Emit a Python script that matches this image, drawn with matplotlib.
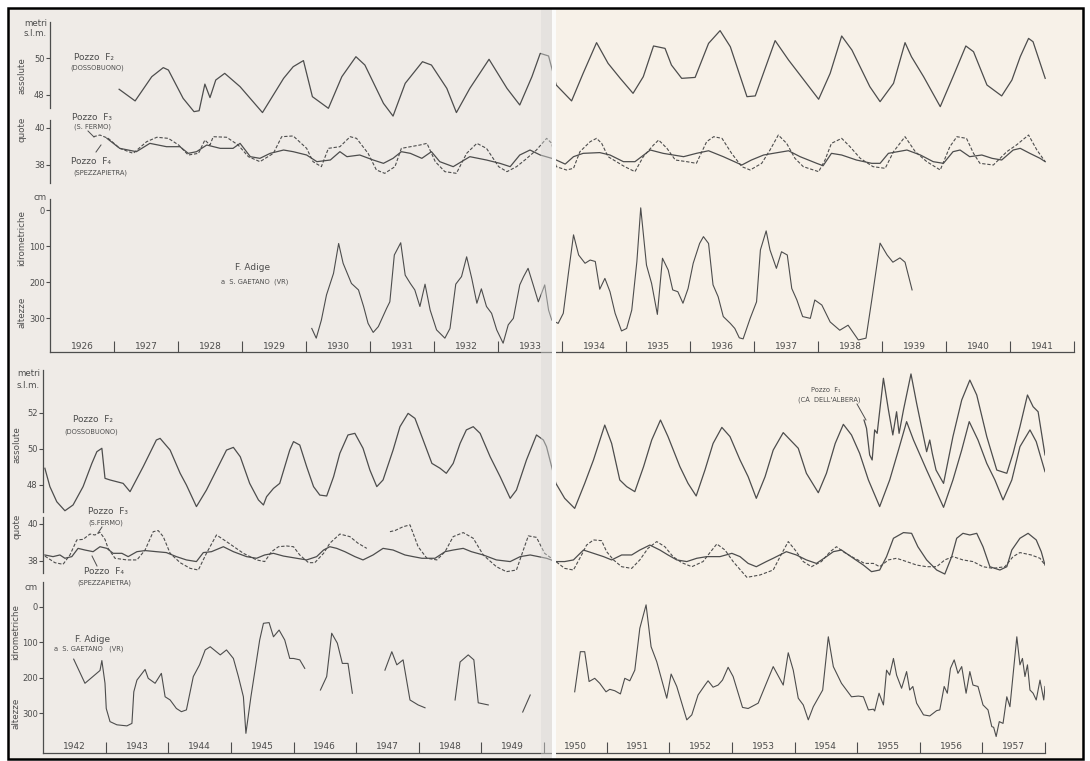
import numpy as np
import matplotlib
matplotlib.use("Agg")
import matplotlib.pyplot as plt
from matplotlib.patches import Rectangle
from matplotlib.lines import Line2D

W, H = 1090, 761
INK = '#4d4d4d'
LEFT_PAGE = '#efebe7'
RIGHT_PAGE = '#f7f1e8'

plt.rcParams['font.family'] = ['DejaVu Sans']

# ---------------- data ----------------
# upper panel 1926-1941 : levels in metri s.l.m., river in cm
top_f2 = [
    (1927.08, 48.31), (1927.33, 47.68), (1927.59, 48.99), (1927.77, 49.48), (1927.85, 49.35),
    (1928.08, 47.82), (1928.25, 47.10), (1928.33, 47.15), (1928.42, 48.59), (1928.50, 47.86),
    (1928.59, 48.81), (1928.73, 49.17), (1928.97, 48.45), (1929.32, 47.05), (1929.65, 48.90),
    (1929.80, 49.53), (1929.96, 49.86), (1930.10, 47.91), (1930.35, 47.28), (1930.56, 48.99),
    (1930.78, 50.07), (1930.92, 49.62), (1931.21, 47.55), (1931.36, 46.86), (1931.55, 48.63),
    (1931.82, 49.80), (1931.96, 49.62), (1932.20, 48.36), (1932.35, 47.05), (1932.56, 48.36),
    (1932.86, 49.93), (1933.14, 48.36), (1933.34, 47.46), (1933.53, 48.99), (1933.66, 50.25),
    (1933.79, 50.11), (1933.91, 48.54), (1934.15, 47.68), (1934.33, 49.17), (1934.54, 50.83),
    (1934.72, 49.71), (1934.91, 48.90), (1935.11, 48.09), (1935.27, 48.99), (1935.43, 50.65),
    (1935.61, 50.52), (1935.71, 49.62), (1935.87, 48.90), (1936.08, 48.95), (1936.29, 50.79),
    (1936.47, 51.48), (1936.63, 50.61), (1936.89, 47.91), (1937.02, 47.95), (1937.33, 50.94),
    (1937.54, 49.89), (1937.72, 49.08), (1938.01, 47.77), (1938.19, 49.17), (1938.37, 51.19),
    (1938.53, 50.43), (1938.81, 48.45), (1938.97, 47.64), (1939.18, 48.63), (1939.36, 50.83),
    (1939.46, 50.07), (1939.65, 48.99), (1939.91, 47.37), (1940.11, 48.99), (1940.31, 50.65),
    (1940.43, 50.34), (1940.64, 48.54), (1940.87, 47.95), (1941.03, 48.81), (1941.16, 50.07),
    (1941.29, 51.06), (1941.36, 50.88), (1941.55, 48.90)]

top_f3 = [
    (1926.68, 39.53), (1926.78, 39.62), (1926.91, 39.44), (1927.09, 38.90), (1927.30, 38.63),
    (1927.51, 39.26), (1927.67, 39.50), (1927.85, 39.44), (1928.01, 39.08), (1928.16, 38.54),
    (1928.32, 38.63), (1928.42, 39.35), (1928.50, 39.08), (1928.55, 39.53), (1928.76, 39.50),
    (1928.94, 39.08), (1929.10, 38.45), (1929.28, 38.18), (1929.49, 38.63), (1929.62, 39.53),
    (1929.80, 39.57), (1930.01, 38.90), (1930.11, 38.18), (1930.24, 37.91), (1930.35, 38.90),
    (1930.53, 38.99), (1930.69, 39.53), (1930.79, 39.44), (1930.97, 38.63), (1931.10, 37.73),
    (1931.23, 37.55), (1931.39, 37.91), (1931.49, 38.90), (1931.78, 39.08), (1931.89, 39.17),
    (1932.02, 38.18), (1932.17, 37.64), (1932.35, 37.55), (1932.51, 38.63), (1932.67, 39.17),
    (1932.82, 38.90), (1933.01, 37.91), (1933.14, 37.64), (1933.29, 37.91), (1933.42, 38.27),
    (1933.60, 38.81), (1933.76, 39.44), (1933.84, 39.17), (1933.91, 37.91), (1934.07, 37.73),
    (1934.18, 37.82), (1934.28, 38.72), (1934.44, 39.26), (1934.54, 39.44), (1934.62, 39.17),
    (1934.72, 38.45), (1934.85, 38.18), (1934.98, 37.91), (1935.14, 37.64), (1935.27, 38.45),
    (1935.43, 39.08), (1935.51, 39.35), (1935.64, 38.90), (1935.77, 38.27), (1935.95, 38.18),
    (1936.10, 38.09), (1936.26, 39.26), (1936.37, 39.53), (1936.50, 39.44), (1936.65, 38.63),
    (1936.81, 37.91), (1936.94, 37.73), (1937.12, 38.09), (1937.25, 38.81), (1937.38, 39.62),
    (1937.51, 39.17), (1937.64, 38.36), (1937.77, 37.91), (1938.01, 37.64), (1938.11, 38.27),
    (1938.21, 39.17), (1938.37, 39.44), (1938.50, 38.99), (1938.66, 38.36), (1938.86, 37.91),
    (1939.05, 37.82), (1939.18, 38.72), (1939.36, 39.53), (1939.52, 38.72), (1939.70, 38.18),
    (1939.91, 37.73), (1940.06, 38.99), (1940.17, 39.53), (1940.32, 39.44), (1940.43, 38.63),
    (1940.53, 38.09), (1940.74, 38.00), (1940.95, 38.72), (1941.10, 39.08), (1941.29, 39.62),
    (1941.42, 38.81), (1941.55, 38.18)]

top_f4 = [
    (1926.89, 39.44), (1927.09, 38.90), (1927.35, 38.72), (1927.56, 39.17), (1927.82, 38.99),
    (1928.03, 38.99), (1928.16, 38.63), (1928.29, 38.72), (1928.45, 39.08), (1928.66, 38.90),
    (1928.86, 38.90), (1928.97, 39.17), (1929.13, 38.45), (1929.28, 38.36), (1929.44, 38.63),
    (1929.65, 38.81), (1929.80, 38.72), (1930.01, 38.54), (1930.17, 38.18), (1930.38, 38.27),
    (1930.53, 38.72), (1930.64, 38.45), (1930.84, 38.54), (1931.05, 38.27), (1931.21, 38.09),
    (1931.36, 38.36), (1931.49, 38.72), (1931.63, 38.63), (1931.81, 38.36), (1931.96, 38.72),
    (1932.09, 38.18), (1932.30, 37.91), (1932.56, 38.45), (1932.82, 38.27), (1933.03, 38.09),
    (1933.19, 37.91), (1933.34, 38.54), (1933.50, 38.81), (1933.66, 38.54), (1933.84, 38.36),
    (1933.91, 38.27), (1934.05, 38.05), (1934.18, 38.45), (1934.33, 38.63), (1934.59, 38.67),
    (1934.75, 38.54), (1934.96, 38.18), (1935.14, 38.18), (1935.38, 38.81), (1935.58, 38.63),
    (1935.74, 38.54), (1935.90, 38.45), (1936.10, 38.63), (1936.29, 38.77), (1936.52, 38.45),
    (1936.81, 38.00), (1936.96, 38.27), (1937.15, 38.54), (1937.30, 38.63), (1937.54, 38.77),
    (1937.72, 38.45), (1937.98, 38.09), (1938.08, 37.96), (1938.21, 38.63), (1938.37, 38.54),
    (1938.60, 38.27), (1938.84, 38.09), (1938.97, 38.09), (1939.10, 38.63), (1939.39, 38.81),
    (1939.60, 38.54), (1939.80, 38.18), (1939.96, 38.09), (1940.11, 38.72), (1940.22, 38.81),
    (1940.37, 38.45), (1940.56, 38.54), (1940.72, 38.36), (1940.87, 38.27), (1941.05, 38.81),
    (1941.16, 38.90), (1941.31, 38.63), (1941.47, 38.36), (1941.55, 38.18)]

top_adige = [
    (1930.09, 329), (1930.16, 356), (1930.24, 306), (1930.32, 236), (1930.43, 176),
    (1930.51, 93), (1930.58, 148), (1930.71, 204), (1930.82, 222), (1930.90, 268),
    (1930.97, 315), (1931.05, 340), (1931.13, 324), (1931.26, 273), (1931.31, 255),
    (1931.38, 125), (1931.48, 91), (1931.55, 181), (1931.63, 204), (1931.70, 222),
    (1931.78, 268), (1931.86, 206), (1931.94, 278), (1932.04, 333), (1932.17, 356),
    (1932.25, 329), (1932.34, 206), (1932.43, 185), (1932.51, 130), (1932.59, 190),
    (1932.67, 259), (1932.74, 219), (1932.82, 268), (1932.90, 287), (1932.98, 333),
    (1933.08, 370), (1933.16, 319), (1933.24, 301), (1933.34, 208), (1933.40, 185),
    (1933.47, 162), (1933.55, 208), (1933.63, 255), (1933.73, 208), (1933.79, 278),
    (1933.84, 306), (1933.94, 315), (1934.02, 287), (1934.10, 176), (1934.18, 69),
    (1934.26, 125), (1934.36, 148), (1934.44, 139), (1934.52, 143), (1934.59, 220),
    (1934.67, 190), (1934.75, 227), (1934.83, 287), (1934.93, 336), (1935.01, 329),
    (1935.09, 278), (1935.17, 143), (1935.23, -6), (1935.32, 153), (1935.40, 204),
    (1935.49, 290), (1935.57, 134), (1935.66, 167), (1935.73, 222), (1935.81, 227),
    (1935.89, 259), (1935.97, 218), (1936.05, 148), (1936.15, 93), (1936.21, 74),
    (1936.29, 93), (1936.36, 208), (1936.44, 241), (1936.52, 296), (1936.63, 315),
    (1936.70, 329), (1936.77, 355), (1936.83, 358), (1936.94, 301), (1937.04, 255),
    (1937.10, 111), (1937.19, 58), (1937.25, 111), (1937.35, 162), (1937.43, 116),
    (1937.52, 125), (1937.59, 218), (1937.67, 250), (1937.76, 296), (1937.88, 301),
    (1937.95, 250), (1938.06, 264), (1938.19, 311), (1938.34, 334), (1938.47, 320),
    (1938.63, 361), (1938.75, 356), (1938.84, 250), (1938.97, 92), (1939.08, 125),
    (1939.17, 145), (1939.28, 133), (1939.36, 145), (1939.47, 222)]

# lower panel 1942-1957
bot_f2 = [
    (1942.03, 48.93), (1942.11, 47.91), (1942.22, 47.07), (1942.35, 46.57), (1942.48, 46.89),
    (1942.64, 47.91), (1942.78, 49.20), (1942.86, 49.85), (1942.94, 50.04), (1942.99, 48.37),
    (1943.07, 48.28), (1943.28, 48.09), (1943.39, 47.63), (1943.60, 49.02), (1943.81, 50.50),
    (1943.87, 50.59), (1944.03, 49.94), (1944.19, 48.65), (1944.29, 48.00), (1944.45, 46.80),
    (1944.61, 47.72), (1944.93, 49.94), (1945.04, 50.09), (1945.15, 49.57), (1945.30, 48.09),
    (1945.44, 47.17), (1945.52, 46.89), (1945.57, 47.35), (1945.68, 47.81), (1945.78, 48.09),
    (1945.94, 49.94), (1946.00, 50.41), (1946.10, 50.22), (1946.21, 49.02), (1946.32, 47.91),
    (1946.42, 47.44), (1946.53, 47.39), (1946.64, 48.46), (1946.74, 49.76), (1946.87, 50.78),
    (1946.98, 50.87), (1947.11, 50.04), (1947.22, 48.83), (1947.33, 47.91), (1947.43, 48.28),
    (1947.59, 49.94), (1947.70, 51.24), (1947.83, 51.98), (1947.94, 51.70), (1948.07, 50.50),
    (1948.21, 49.20), (1948.34, 48.93), (1948.44, 48.65), (1948.55, 49.20), (1948.66, 50.31),
    (1948.76, 51.06), (1948.87, 51.24), (1948.98, 50.87), (1949.14, 49.57), (1949.30, 48.46),
    (1949.46, 47.26), (1949.56, 47.72), (1949.72, 49.39), (1949.88, 50.78), (1949.99, 50.50),
    (1950.04, 50.13), (1950.19, 48.09), (1950.33, 47.26), (1950.49, 46.70), (1950.65, 48.09),
    (1950.79, 49.39), (1950.97, 51.33), (1951.08, 50.31), (1951.21, 48.28), (1951.32, 47.91),
    (1951.45, 47.63), (1951.59, 49.02), (1951.72, 50.50), (1951.86, 51.61), (1951.98, 50.69),
    (1952.17, 49.02), (1952.30, 48.09), (1952.43, 47.39), (1952.57, 48.83), (1952.70, 50.31),
    (1952.84, 51.20), (1952.97, 50.69), (1953.13, 49.39), (1953.26, 48.46), (1953.39, 47.26),
    (1953.53, 48.46), (1953.66, 49.94), (1953.82, 50.91), (1954.06, 50.04), (1954.19, 48.65),
    (1954.38, 47.57), (1954.51, 48.65), (1954.65, 50.31), (1954.78, 51.37), (1954.91, 50.78),
    (1955.04, 49.76), (1955.18, 48.28), (1955.36, 46.80), (1955.52, 48.28), (1955.66, 49.94),
    (1955.79, 51.52), (1955.90, 50.50), (1956.11, 48.83), (1956.38, 46.76), (1956.53, 48.28),
    (1956.67, 49.94), (1956.79, 51.52), (1956.93, 50.50), (1957.07, 49.20), (1957.20, 48.28),
    (1957.33, 47.17), (1957.47, 48.28), (1957.60, 50.13), (1957.76, 51.06), (1957.86, 50.41),
    (1958.00, 48.74)]

bot_f1 = [
    (1955.11, 51.61), (1955.15, 51.15), (1955.20, 49.67), (1955.24, 49.39), (1955.28, 51.06),
    (1955.32, 50.87), (1955.42, 53.93), (1955.50, 52.17), (1955.57, 50.78), (1955.63, 52.07),
    (1955.67, 50.87), (1955.74, 52.17), (1955.86, 54.17), (1955.95, 52.54), (1956.06, 50.69),
    (1956.11, 49.85), (1956.16, 50.50), (1956.20, 49.76), (1956.26, 48.83), (1956.38, 48.09),
    (1956.53, 50.69), (1956.67, 52.72), (1956.80, 53.83), (1956.91, 53.00), (1957.07, 50.69),
    (1957.23, 48.83), (1957.39, 48.65), (1957.49, 49.76), (1957.60, 51.24), (1957.72, 53.00),
    (1957.81, 52.35), (1957.89, 52.07), (1958.00, 49.67)]

bot_f3 = [
    (1942.03, 38.25), (1942.19, 37.89), (1942.32, 37.80), (1942.43, 38.31), (1942.54, 39.13),
    (1942.64, 39.16), (1942.75, 39.45), (1942.83, 39.40), (1942.91, 39.55), (1942.99, 39.16),
    (1943.04, 38.67), (1943.15, 38.13), (1943.34, 38.04), (1943.50, 38.04), (1943.63, 38.58),
    (1943.76, 39.58), (1943.84, 39.64), (1943.92, 39.31), (1944.03, 38.40), (1944.19, 37.89),
    (1944.35, 37.58), (1944.48, 37.49), (1944.61, 38.40), (1944.77, 39.40), (1944.93, 39.04),
    (1945.20, 38.40), (1945.41, 38.04), (1945.54, 37.95), (1945.65, 38.49), (1945.76, 38.76),
    (1945.89, 38.80), (1946.00, 38.76), (1946.10, 38.31), (1946.24, 37.89), (1946.34, 37.89),
    (1946.48, 38.40), (1946.58, 38.95), (1946.74, 39.45), (1946.90, 39.31), (1947.03, 38.95),
    (1947.17, 38.67), (np.nan, np.nan),
    (1947.54, 39.58), (1947.62, 39.64), (1947.75, 39.85), (1947.86, 39.95), (1947.99, 38.76),
    (1948.13, 38.13), (1948.29, 38.04), (1948.42, 38.49), (1948.55, 39.31), (1948.71, 39.53),
    (1948.87, 39.22), (1949.03, 38.31), (1949.24, 37.67), (1949.40, 37.40), (1949.56, 37.49),
    (1949.67, 38.58), (1949.75, 39.35), (1949.88, 39.27), (1950.01, 38.40), (1950.19, 37.95),
    (1950.33, 37.58), (1950.47, 37.49), (1950.60, 38.31), (1950.68, 38.85), (1950.79, 39.13),
    (1950.92, 39.09), (1951.00, 38.49), (1951.11, 38.04), (1951.24, 37.67), (1951.40, 37.58),
    (1951.53, 38.04), (1951.66, 38.67), (1951.80, 39.04), (1951.93, 38.76), (1952.06, 38.22),
    (1952.20, 37.89), (1952.36, 37.67), (1952.54, 37.95), (1952.65, 38.44), (1952.76, 38.91),
    (1952.89, 38.58), (1953.02, 37.95), (1953.16, 37.40), (1953.24, 37.09), (1953.45, 37.22),
    (1953.66, 37.49), (1953.77, 38.22), (1953.90, 39.04), (1954.01, 38.58), (1954.14, 37.95),
    (1954.27, 37.67), (1954.43, 37.95), (1954.57, 38.49), (1954.67, 38.76), (1954.80, 38.44),
    (1954.96, 38.13), (1955.12, 37.85), (1955.26, 37.85), (1955.36, 37.67), (1955.50, 38.04),
    (1955.63, 38.13), (1955.79, 37.95), (1955.95, 37.76), (1956.11, 37.67), (1956.27, 37.67),
    (1956.40, 38.04), (1956.53, 38.22), (1956.69, 38.04), (1956.85, 37.95), (1957.01, 37.67),
    (1957.17, 37.58), (1957.36, 37.67), (1957.49, 38.22), (1957.60, 38.44), (1957.78, 38.31),
    (1957.92, 38.13), (1958.00, 37.76)]

bot_f4 = [
    (1942.03, 38.31), (1942.16, 38.22), (1942.27, 38.31), (1942.35, 38.13), (1942.46, 38.22),
    (1942.56, 38.67), (1942.67, 38.58), (1942.80, 38.49), (1942.91, 38.76), (1943.02, 38.67),
    (1943.12, 38.40), (1943.26, 38.40), (1943.36, 38.22), (1943.50, 38.49), (1943.63, 38.55),
    (1943.81, 38.49), (1943.97, 38.44), (1944.13, 38.22), (1944.29, 38.04), (1944.45, 37.95),
    (1944.56, 38.44), (1944.69, 38.49), (1944.88, 38.76), (1945.04, 38.49), (1945.25, 38.22),
    (1945.41, 38.13), (1945.54, 38.31), (1945.68, 38.40), (1945.84, 38.25), (1946.05, 38.13),
    (1946.21, 38.04), (1946.37, 38.22), (1946.48, 38.58), (1946.58, 38.76), (1946.69, 38.67),
    (1946.82, 38.49), (1946.98, 38.22), (1947.11, 38.04), (1947.27, 38.31), (1947.43, 38.67),
    (1947.59, 38.58), (1947.78, 38.31), (1947.91, 38.22), (1948.05, 38.13), (1948.26, 38.13),
    (1948.42, 38.49), (1948.55, 38.58), (1948.71, 38.67), (1948.84, 38.49), (1949.03, 38.31),
    (1949.24, 38.04), (1949.46, 37.95), (1949.62, 38.22), (1949.78, 38.31), (1949.91, 38.22),
    (1950.04, 38.13), (1950.19, 37.95), (1950.33, 37.95), (1950.47, 38.04), (1950.63, 38.58),
    (1950.79, 38.40), (1950.95, 38.22), (1951.08, 38.04), (1951.24, 38.31), (1951.40, 38.31),
    (1951.53, 38.58), (1951.69, 38.85), (1951.85, 38.58), (1951.98, 38.31), (1952.12, 38.04),
    (1952.28, 37.95), (1952.44, 38.13), (1952.60, 38.22), (1952.81, 38.22), (1953.00, 38.40),
    (1953.13, 38.22), (1953.26, 37.85), (1953.39, 37.67), (1953.55, 37.95), (1953.66, 38.13),
    (1953.87, 38.49), (1954.03, 38.31), (1954.19, 38.04), (1954.35, 37.85), (1954.51, 38.22),
    (1954.62, 38.49), (1954.75, 38.58), (1954.94, 38.13), (1955.10, 37.76), (1955.23, 37.40),
    (1955.36, 37.49), (1955.47, 38.22), (1955.58, 39.22), (1955.74, 39.53), (1955.87, 39.49),
    (1955.97, 38.76), (1956.11, 38.04), (1956.27, 37.49), (1956.40, 37.27), (1956.51, 38.22),
    (1956.59, 39.22), (1956.69, 39.49), (1956.80, 39.40), (1956.91, 39.49), (1957.01, 38.76),
    (1957.12, 37.67), (1957.28, 37.49), (1957.39, 37.67), (1957.47, 38.58), (1957.60, 39.22),
    (1957.73, 39.49), (1957.86, 39.13), (1957.94, 38.49), (1958.00, 37.76)]

bot_adige = [
    (1942.49, 147), (1942.67, 215), (1942.91, 179), (1942.94, 151), (1942.99, 215),
    (1943.01, 286), (1943.07, 323), (1943.18, 332), (1943.34, 335), (1943.42, 328),
    (1943.45, 239), (1943.50, 206), (1943.63, 176), (1943.68, 201), (1943.79, 215),
    (1943.89, 187), (1943.95, 253), (1944.03, 262), (1944.13, 286), (1944.21, 295),
    (1944.29, 290), (1944.40, 196), (1944.50, 163), (1944.59, 121), (1944.67, 112),
    (1944.83, 135), (1944.93, 121), (1945.04, 145), (1945.12, 196), (1945.20, 253),
    (1945.24, 356), (1945.32, 253), (1945.46, 93), (1945.52, 46), (1945.61, 44),
    (1945.68, 84), (1945.77, 65), (1945.86, 93), (1945.94, 145), (1946.00, 145),
    (1946.10, 149), (1946.18, 173), (np.nan, np.nan),
    (1946.43, 234), (1946.53, 196), (1946.61, 74), (1946.70, 102), (1946.78, 159),
    (1946.87, 159), (1946.94, 243), (np.nan, np.nan),
    (1947.46, 178), (1947.57, 126), (1947.65, 163), (1947.75, 149), (1947.86, 262),
    (1947.99, 276), (1948.10, 284), (np.nan, np.nan),
    (1948.58, 262), (1948.66, 155), (1948.79, 135), (1948.88, 149), (1948.95, 270),
    (1949.11, 276), (np.nan, np.nan),
    (1949.66, 296), (1949.78, 248), (np.nan, np.nan),
    (1950.49, 239), (1950.58, 126), (1950.65, 126), (1950.72, 210), (1950.81, 201),
    (1950.89, 215), (1950.99, 239), (1951.05, 232), (1951.13, 236), (1951.22, 245),
    (1951.29, 201), (1951.37, 208), (1951.45, 178), (1951.53, 60), (1951.63, -6),
    (1951.71, 112), (1951.80, 154), (1951.88, 206), (1951.96, 257), (1952.03, 189),
    (1952.12, 224), (1952.28, 318), (1952.36, 304), (1952.46, 248), (1952.57, 220),
    (1952.62, 208), (1952.70, 226), (1952.78, 220), (1952.85, 206), (1952.94, 170),
    (1953.02, 196), (1953.17, 283), (1953.26, 286), (1953.42, 271), (1953.66, 168),
    (1953.82, 220), (1953.90, 129), (1953.98, 178), (1954.06, 257), (1954.14, 276),
    (1954.22, 318), (1954.30, 281), (1954.45, 234), (1954.54, 84), (1954.62, 168),
    (1954.75, 215), (1954.91, 253), (1955.02, 251), (1955.10, 253), (1955.18, 290),
    (1955.26, 288), (1955.28, 293), (1955.35, 243), (1955.42, 276), (1955.47, 178),
    (1955.52, 192), (1955.58, 145), (1955.63, 192), (1955.71, 229), (1955.79, 182),
    (1955.84, 234), (1955.89, 224), (1955.95, 271), (1956.06, 304), (1956.16, 307),
    (1956.27, 292), (1956.32, 290), (1956.39, 224), (1956.44, 243), (1956.49, 173),
    (1956.55, 149), (1956.61, 187), (1956.67, 168), (1956.74, 243), (1956.80, 182),
    (1956.85, 220), (1956.93, 224), (1957.01, 276), (1957.09, 290), (1957.15, 337),
    (1957.18, 339), (1957.22, 365), (1957.27, 323), (1957.33, 328), (1957.39, 253),
    (1957.44, 281), (1957.55, 84), (1957.60, 163), (1957.64, 145), (1957.68, 196),
    (1957.72, 163), (1957.76, 234), (1957.81, 243), (1957.86, 262), (1957.92, 206),
    (1957.98, 262), (1958.00, 224)]

top_years = list(range(1926, 1942))
bot_years = list(range(1942, 1958))


def xy(pairs):
    a = np.array(pairs, dtype=float)
    return a[:, 0], a[:, 1]


# ---------------- figure ----------------
fig = plt.figure(figsize=(W / 100, H / 100), dpi=100)
fig.patch.set_facecolor('white')


def box(x0, y0, x1, y1):
    # pixel box (top-left origin) -> figure fraction
    return [x0 / W, 1 - y1 / H, (x1 - x0) / W, (y1 - y0) / H]


def fig_rect(x0, y0, x1, y1, **kw):
    l, b, w, h = box(x0, y0, x1, y1)
    fig.add_artist(Rectangle((l, b), w, h, transform=fig.transFigure, **kw))


def fig_line(x0, y0, x1, y1, **kw):
    fig.add_artist(Line2D([x0 / W, x1 / W], [1 - y0 / H, 1 - y1 / H],
                          transform=fig.transFigure, color=INK, lw=0.7, **kw))


def ftext(x, y, s, **kw):
    kw.setdefault('color', INK)
    fig.text(x / W, 1 - y / H, s, **kw)


# pages, fold and frame
fig_rect(8, 8, 552, 759, fc=LEFT_PAGE, ec='none', zorder=-3)
fig_rect(552, 8, 1083, 759, fc=RIGHT_PAGE, ec='none', zorder=-3)


def section(x0, x1, y0, y1, xlim, ylim, bounds, ticks, years=None):
    ax = fig.add_axes(box(x0, y0, x1, y1))
    ax.patch.set_visible(False)
    ax.set_xlim(*xlim)
    ax.set_ylim(*ylim)
    for s in ('top', 'right'):
        ax.spines[s].set_visible(False)
    ax.spines['left'].set_bounds(*bounds)
    ax.spines['left'].set_color(INK)
    ax.spines['left'].set_linewidth(0.9)
    ax.set_yticks(ticks)
    ax.tick_params(axis='y', direction='out', length=3, width=0.8,
                   colors=INK, labelsize=6, pad=0.8)
    if years is None:
        ax.spines['bottom'].set_visible(False)
        ax.set_xticks([])
    else:
        ax.spines['bottom'].set_color(INK)
        ax.spines['bottom'].set_linewidth(0.9)
        ax.set_xticks(years[1:] + [years[-1] + 1])
        ax.tick_params(axis='x', direction='in', length=8, width=0.8,
                       colors=INK, labelbottom=False)
        for yr in years:
            ax.text(yr + 0.5, 0.035, str(yr), transform=ax.get_xaxis_transform(),
                    ha='center', va='center', fontsize=6.5, color=INK)
    return ax


line_kw = dict(color=INK, lw=0.9)
dash_kw = dict(color=INK, lw=0.8, dashes=(3, 1.6))

# ---- upper panel ----
ax = section(50, 1074, 21, 122.75, (1926, 1942), (46.5, 52.0), (47.3, 51.95), [48, 50])
ax.plot(*xy(top_f2), **line_kw)

ax = section(50, 1074, 116.9, 185.35, (1926, 1942), (36.9, 40.6), (37.03, 40.43), [38, 40])
ax.plot(*xy(top_f3), **dash_kw)
ax.plot(*xy(top_f4), **line_kw)

ax = section(50, 1074, 193.8, 352.2, (1926, 1942), (395, -45), (395, -30), [0, 100, 200, 300],
             years=top_years)
ax.plot(*xy(top_adige), color=INK, lw=0.8)

# ---- lower panel ----
ax = section(43, 1045, 369.8, 515.6, (1942, 1958), (46.3, 54.4), (46.5, 54.39), [48, 50, 52])
ax.plot(*xy(bot_f2), **line_kw)
ax.plot(*xy(bot_f1), **line_kw)

ax = section(43, 1045, 514.8, 579, (1942, 1958), (37.0, 40.5), (37.33, 40.38), [38, 40])
ax.plot(*xy(bot_f3), **dash_kw)
ax.plot(*xy(bot_f4), **line_kw)

ax = section(43, 1045, 580, 752.5, (1942, 1958), (410, -76), (410, -70), [0, 100, 200, 300],
             years=bot_years)
ax.plot(*xy(bot_adige), color=INK, lw=0.8)

# ---- axis captions ----
for (x, y, s) in [(47, 23, 'metri'), (47, 33, 's.l.m.'), (47, 197, 'cm'),
                  (40, 373, 'metri'), (40, 385, 's.l.m.'), (38, 587, 'cm')]:
    ftext(x, y, s, ha='right', va='center', fontsize=6.2)

for (x, y, s) in [(22, 76, 'assolute'), (22, 129, 'quote'), (22, 238, 'idrometriche'),
                  (22, 312, 'altezze'), (17, 445, 'assolute'), (17, 526, 'quote'),
                  (16, 632, 'idrometriche'), (16, 713, 'altezze')]:
    ftext(x, y, s, ha='center', va='center', rotation=90, fontsize=6.3)

# ---- series labels ----
small = dict(ha='center', va='center', fontsize=4.8)
big = dict(ha='center', va='center', fontsize=6.5)
ftext(94, 58, 'Pozzo  F\u2082', **big)
ftext(97, 68, '(DOSSOBUONO)', **small)
ftext(92, 117, 'Pozzo  F\u2083', **big)
ftext(93, 127, '(S. FERMO)', **small)
ftext(91, 162, 'Pozzo  F\u2084', **big)
ftext(100, 173, '(SPEZZAPIETRA)', **small)
ftext(253, 268, 'F. Adige', **big)
ftext(255, 282, 'a  S. GAETANO  (VR)', **small)

ftext(93, 420, 'Pozzo  F\u2082', **big)
ftext(91, 432, '(DOSSOBUONO)', **small)
ftext(108, 512, 'Pozzo  F\u2083', **big)
ftext(106, 523, '(S.FERMO)', **small)
ftext(104, 572, 'Pozzo  F\u2084', **big)
ftext(104, 583, '(SPEZZAPIETRA)', **small)
ftext(93, 640, 'F. Adige', **big)
ftext(89, 649, 'a  S. GAETANO   (VR)', **small)
ftext(826, 390, 'Pozzo  F\u2081', **small)
ftext(829, 400, "(CA\u0300  DELL'ALBERA)", **small)

# pointer strokes
fig_line(88, 131, 94, 137)
fig_line(96, 152, 101, 145)
fig_line(102, 527, 98, 533)
fig_line(97, 566, 92, 556)
fig_line(857, 404, 866, 420)

# fold between the two pages, drawn over the curves
fig_rect(541, 8, 552, 759, fc='#d9d9d7', ec='none', alpha=0.45, zorder=2)
fig_rect(552, 8, 556, 759, fc='#fbfbfa', ec='none', zorder=2)
fig_rect(8, 8, 1083, 759, fc='none', ec='black', lw=1.8, zorder=3)

fig.savefig('out.png', dpi=100, facecolor=fig.get_facecolor())
